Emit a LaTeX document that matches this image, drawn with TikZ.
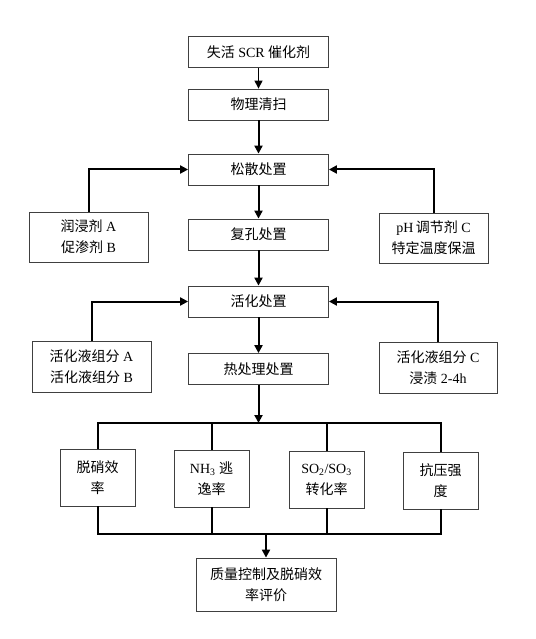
\documentclass[tikz,border=0pt]{standalone}
\usepackage{fontspec}
\setmainfont{Liberation Serif}
\newfontfamily\zhfont{Noto Sans CJK SC}
\usetikzlibrary{arrows.meta}
\newcommand{\zh}[1]{{\zhfont #1}}

\begin{document}
\begin{tikzpicture}[x=1pt,y=-1pt,
  box/.style={draw=black!75,line width=0.8pt,minimum width=140pt,minimum height=31pt,inner sep=1pt,align=center,font=\fontsize{14}{21}\selectfont},
  sidebox/.style={box,minimum width=119pt,minimum height=50pt},
  testbox/.style={box,minimum width=75pt,minimum height=57pt},
  flow/.style={line width=2pt,-{Triangle[length=8pt,width=8pt]}},
  bus/.style={line width=2pt}]
\useasboundingbox (0,0) rectangle (535,639);
% Main chain
\node[box] (lost) at (258.5,52) {\zh{失活} SCR \zh{催化剂}};
\node[box] (clean) at (258.5,104.5) {\zh{物理清扫}};
\node[box] (loose) at (258.5,169.5) {\zh{松散处置}};
\node[box] (pore) at (258.5,234.5) {\zh{复孔处置}};
\node[box] (act) at (258.5,301.5) {\zh{活化处置}};
\node[box] (heat) at (258.5,369) {\zh{热处理处置}};
% Side inputs
\node[sidebox] (wetA) at (88.5,237) {\zh{润浸剂} A\\\zh{促渗剂} B};
\node[sidebox,minimum width=109pt] (phC) at (433.5,238) {pH\,\zh{调节剂} C\\\zh{特定温度保温}};
\node[sidebox,minimum height=51pt] (liqAB) at (91.5,366.5) {\zh{活化液组分} A\\\zh{活化液组分} B};
\node[sidebox,minimum width=118pt,minimum height=51pt] (liqC) at (438,367.5) {\zh{活化液组分} C\\\zh{浸渍} 2-4h};
% Tests
\node[testbox] (denox) at (97.5,477.5) {\zh{脱硝效}\\\zh{率}};
\node[testbox] (slip) at (211.5,478.5) {NH\textsubscript{3} \zh{逃}\\\zh{逸率}};
\node[testbox] (conv) at (326.5,479.5) {SO\textsubscript{2}/SO\textsubscript{3}\\\zh{转化率}};
\node[testbox] (crush) at (440.5,480.5) {\zh{抗压强}\\\zh{度}};
\node[box,minimum height=53pt] (eval) at (266,584.5) {\zh{质量控制及脱硝效}\\\zh{率评价}};
% Bus lines
\coordinate (topbus) at (97,423);
\coordinate (botbus) at (97,534);
% Arrows
\draw[flow,line width=1.2pt] (lost) -- (clean);
\draw[flow] (clean) -- (loose);
\draw[flow] (loose) -- (pore);
\draw[flow] (pore) -- (act);
\draw[flow] (act) -- (heat);
\draw[flow] (wetA.north) |- (loose.west);
\draw[flow] (phC.north) |- (loose.east);
\draw[flow] (liqAB.north) |- (act.west);
\draw[flow] (liqC.north) |- (act.east);
\draw[flow] (heat.south) -- (heat.south |- topbus);
\draw[bus] (denox.north) -- (denox.north |- topbus) -- (crush.north |- topbus) -- (crush.north);
\draw[bus] (slip.north) -- (slip.north |- topbus);
\draw[bus] (conv.north) -- (conv.north |- topbus);
\draw[bus] (denox.south) -- (denox.south |- botbus) -- (crush.south |- botbus) -- (crush.south);
\draw[bus] (slip.south) -- (slip.south |- botbus);
\draw[bus] (conv.south) -- (conv.south |- botbus);
\draw[flow] (eval.north |- botbus) -- (eval.north);
\end{tikzpicture}
\end{document}
